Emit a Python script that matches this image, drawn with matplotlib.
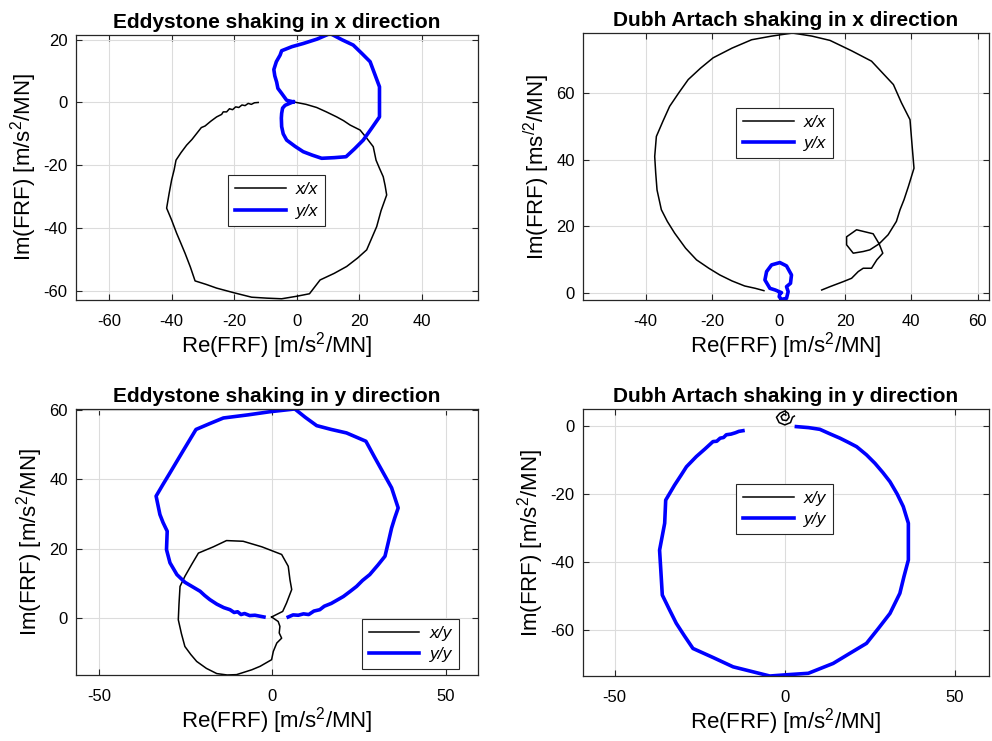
import matplotlib
matplotlib.use("Agg")
import matplotlib.pyplot as plt

plt.rcParams['font.family'] = ['Liberation Sans', 'DejaVu Sans']
plt.rcParams['mathtext.default'] = 'regular'
plt.rcParams['axes.unicode_minus'] = False

# ---- Eddystone, shaking in x ----
ed_xx_re = [-12.3, -13.5, -14.5, -15.5, -16.5, -17.5, -18.5, -19.5, -20.5, -21.5, -22.4, -23.5, -24, -25.6,
            -27.5, -29.3, -30.5, -32, -33.5, -35.2, -37,
            -38.6, -39.2, -40, -40.8, -41.6, -40, -38.4, -37, -35.7, -34, -32.5, -29, -25.6, -20, -14.4,
            -9.5, -4.8, 0, 4.1, 5.8, 7.5, 12, 16, 19.5, 22.4, 24, 25.6, 27, 28.8, 28.3, 27.7, 26.5, 25.4,
            24.5, 22.5, 20.3, 17.1, 15, 12.8, 9.5, 6.4, 3, -1.1]
ed_xx_im = [0.0, -0.1, -0.6, -0.3, -1.0, -0.8, -1.6, -1.4, -2.3, -2.0, -3.0, -3.0, -3.8, -4.6,
            -6.0, -7.5, -8.0, -9.9, -11.8, -13.6, -16,
            -18.4, -21.5, -24.7, -29, -33.7, -37.5, -41.7, -45, -48.1, -52.5, -56.9, -58, -59.2, -60.7, -62.1,
            -62.4, -62.6, -61.8, -61.0, -58.8, -56.6, -54.5, -52.3, -49.6, -47.0, -43.3, -39.6, -34.5, -29.5, -26.5, -23.7, -21, -18.4,
            -14.1, -11.5, -8.8, -7.2, -5.8, -4.6, -3.0, -1.6, -0.6, 0.2]
ed_yx_re = [-1.1, -3.2, -4.8, -6.0, -6.4, -7.0, -7.3, -6.5, -5.3, -4.8, -1.5, 2.1, 6.5, 10.7, 14.5, 18.1,
            21, 23.5, 25, 26.5, 26.5, 26.5, 24, 21.3, 18.5, 15.8, 12, 8, 5, 2.1, -0.5, -3.2, -4.3, -4.8,
            -4.9, -4.8, -4.5, -3.7, -1.1]
ed_yx_im = [0.2, 0.7, 2.9, 4.5, 6.5, 8.5, 10.5, 13, 15.1, 16.5, 17.8, 18.8, 20.2, 22.0, 20.0, 18.3,
            15.5, 13.0, 9, 5.0, 0, -4.6, -8.2, -12.0, -14.8, -17.3, -17.6, -17.8, -16.8, -15.7, -14, -12.0, -10, -7.7,
            -5, -3.5, -1.8, -0.9, 0.2]

# ---- Dubh Artach, shaking in x ----
da_xx_re = [-4.4, -7, -10.2, -14, -17.7, -21, -24.7, -28, -31.3, -33.5, -35.3, -36.6, -37, -37.3, -36.8,
            -34.8, -32.8, -30, -27.2, -23.5, -19.7, -14, -8.1, -2, 4.2, 10, 15.5, 22, 28, 34.6, 37, 39.6,
            40.2, 40.8, 39.1, 37.8, 36.6, 35.5, 33, 30.3, 27.5, 25.5, 22.5, 20.5, 20.5, 23.5, 28.5, 30.3,
            31.4, 29.6, 28, 25.5, 24, 22, 19.5, 15.5, 13]
da_xx_im = [0.8, 1.5, 2.2, 3.7, 5.5, 7.5, 10, 13.5, 18, 21.5, 25, 30.9, 36, 40.9, 46.9,
            51.5, 55.9, 60, 63.9, 67.3, 70.4, 73.3, 75.8, 76.9, 77.8, 76.9, 75.6, 72.5, 69.4, 62.4, 57, 51.9,
            44.5, 37.4, 31.9, 28, 25, 21.5, 17.5, 14.8, 13, 12.5, 12, 14.5, 16.9, 19, 17.8, 14.8,
            12, 10, 7.5, 7.5, 6.5, 4.5, 3.5, 2, 1]
da_yx_re = [0.4, 0.9, -1.0, -2.6, -4.1, -3.6, -2.1, 0.4, 2.4, 3.9, 3.6, 2.4, 2.9, 2.4, 0.9, 0.2, 0.4]
da_yx_im = [0.0, 0.2, 1.0, 1.5, 4.0, 6.5, 8.5, 9.2, 8.2, 5.5, 3.0, 2.0, 0.5, -1.5, -1.8, -1.0, 0.0]

# ---- Eddystone, shaking in y ----
ed_xy_re = [-0.2, 1.7, 2.2, 2.0, 2.7, 1.3, 0.3, -0.2, -3.5, -5.9, -10.3, -13, -16, -19, -21.8, -23.5,
            -25.2, -26.2, -27.1, -26.9, -26.6, -25.2, -23.2, -21.3, -17, -13.2, -8.4, -3, 2.7, 4.6, 5.1,
            5.6, 4.1, 3.0, -0.2]
ed_xy_im = [0.3, -1.0, -2.4, -4.3, -5.8, -7.2, -9.6, -12, -13.9, -14.9, -16.3, -16.4, -16, -14.5, -12.5, -10.5,
            -8.2, -4.5, -0.5, 4, 9.1, 12, 15.5, 18.7, 20.5, 22.3, 22.1, 20.5, 18.3, 14.9, 11,
            8.2, 4.3, 1.9, 0.3]
ed_yy_re = [-2.4, -5, -6.5, -8, -9, -10, -11, -12.2, -14, -16, -18, -19.5, -20.8, -23, -25.2, -27.5, -29.5,
            -30.5, -30.3, -31.5, -32.4, -33.5, -31.5, -29.5, -25.8, -22, -18, -14.1, -7, -0.7, 6.5, 9.5,
            12.8, 17, 21.4, 27, 29.5, 32, 34.4, 36.3, 35.3, 34.4, 33.5, 32.5, 30.5, 28.1, 26, 24.3, 22.5,
            20.5, 17, 15, 13.7, 12, 10.5, 9, 7.5, 6, 4.6]
ed_yy_im = [0.3, 0.8, 0.7, 1.3, 1.0, 1.8, 1.6, 2.4, 3.0, 4.0, 5.3, 6.5, 7.7, 9, 10.3, 12.5, 15.9,
            19.7, 25, 27.5, 29.8, 35.1, 38.5, 41.8, 48, 54.3, 56, 57.6, 58.5, 59.4, 60.2, 57.8,
            55.4, 54.3, 53.3, 50.9, 46.3, 41.8, 37.5, 31.7, 28.8, 25.9, 22, 17.8, 15.3, 12.5, 10.8, 9.1, 7.7,
            6.2, 4.2, 3.4, 2.4, 2.0, 1.0, 1.2, 0.8, 0.9, 0.3]

# ---- Dubh Artach, shaking in y ----
da_xy_re = [0.3, -0.3, -1.1, -0.7, 0.5, 1.27, 1.0, 0.0, -1.47, -2.45, -1.67, 0.0, 1.67, 2.25, 2.8]
da_xy_im = [3.2, 3.5, 2.75, 1.76, 1.57, 2.55, 3.7, 4.4, 3.7, 2.55, 0.98, 0.3, 0.98, 2.55, 2.9]
da_yy_re = [-12.3, -13.5, -14.5, -15.8, -17.2, -18, -19, -20, -21.1, -23.5, -26, -28.9, -30.5, -32.4, -35,
            -35.3, -36.8, -36.4, -36, -33.9, -31.9, -29.5, -27, -21, -15.2, -10, -4.4, 1, 6.9, 14.2, 19,
            24, 27.5, 30.9, 33.8, 35, 36.3, 36.3, 36.3, 34.8, 33, 30.9, 28.8, 26.5, 24, 21.1, 18.6, 16.2,
            13.2, 10.3, 7, 3.4]
da_yy_im = [-1.4, -1.6, -2.0, -2.4, -2.6, -3.4, -3.6, -4.5, -4.6, -6.8, -9, -12, -14.5, -17.4, -21.8,
            -28.6, -36.5, -43, -49.7, -54, -58, -61.7, -65.4, -68.1, -70.8, -72.1, -73.5, -73.1, -72.7, -69.8, -66.9,
            -63.9, -59.5, -55.1, -49.2, -44.3, -39.4, -34, -28.6, -23.7, -20, -16.4, -13.7, -11, -8.5, -6.1, -4.8, -3.6,
            -2.3, -1, -0.5, -0.2]

panels = [
    dict(title='Eddystone shaking in x direction', pos=[0.0766, 0.5951, 0.4052, 0.3576],
         xlim=(-70.6, 58), ylim=(-63, 21.5), xticks=range(-60, 41, 20), yticks=range(-60, 21, 20),
         black=(ed_xx_re, ed_xx_im, 'x/x'), blue=(ed_yx_re, ed_yx_im, 'y/x'),
         ylabel='Im(FRF) [m/s$^2$/MN]', leg=(0.2792, 0.7294)),
    dict(title='Dubh Artach shaking in x direction', pos=[0.5877, 0.5951, 0.4093, 0.3603],
         xlim=(-58.9, 63.4), ylim=(-2, 77.8), xticks=range(-40, 61, 20), yticks=range(0, 61, 20),
         black=(da_xx_re, da_xx_im, 'x/x'), blue=(da_yx_re, da_yx_im, 'y/x'),
         ylabel='Im(FRF) [ms$^{/2}$/MN]', leg=(0.7913, 0.8205)),
    dict(title='Eddystone shaking in y direction', pos=[0.0766, 0.0891, 0.4052, 0.359],
         xlim=(-56.6, 59.3), ylim=(-16.4, 60.2), xticks=[-50, 0, 50], yticks=range(0, 61, 20),
         black=(ed_xy_re, ed_xy_im, 'x/y'), blue=(ed_yy_re, ed_yy_im, 'y/y'),
         ylabel='Im(FRF) [m/s$^2$/MN]', leg=(0.4138, 0.1309)),
    dict(title='Dubh Artach shaking in y direction', pos=[0.5877, 0.0877, 0.4093, 0.360],
         xlim=(-59.3, 60), ylim=(-73.5, 4.9), xticks=[-50, 0, 50], yticks=range(-60, 1, 20),
         black=(da_xy_re, da_xy_im, 'x/y'), blue=(da_yy_re, da_yy_im, 'y/y'),
         ylabel='Im(FRF) [m/s$^2$/MN]', leg=(0.7913, 0.3131)),
]

fig = plt.figure(figsize=(9.92, 7.41), dpi=100)
for p in panels:
    ax = fig.add_axes(p['pos'])
    bx, by, bl = p['black']
    ux, uy, ul = p['blue']
    ax.plot(bx, by, color='black', lw=1.1, label=bl)
    ax.plot(ux, uy, color='#0000ff', lw=2.6, label=ul)
    ax.set_xlim(*p['xlim'])
    ax.set_ylim(*p['ylim'])
    ax.set_xticks(list(p['xticks']))
    ax.set_yticks(list(p['yticks']))
    ax.grid(True, color='#dcdcdc', lw=0.8)
    ax.set_axisbelow(True)
    ax.tick_params(direction='in', length=4, width=0.8, top=True, right=True,
                   labelsize=12, color='#262626')
    ax.tick_params(axis='x', pad=10)
    ax.tick_params(axis='y', pad=6)
    for s in ax.spines.values():
        s.set_linewidth(0.9)
        s.set_color('#262626')
    ax.set_title(p['title'], fontsize=15, fontweight='bold', pad=5)
    ax.set_xlabel('Re(FRF) [m/s$^2$/MN]', fontsize=16, labelpad=1)
    ax.set_ylabel(p['ylabel'], fontsize=16, labelpad=3)
    leg = ax.legend(loc='center', bbox_to_anchor=p['leg'], bbox_transform=fig.transFigure,
                    prop={'size': 12.5, 'style': 'italic'}, handlelength=2.9, fancybox=False,
                    framealpha=1, edgecolor='#262626', borderpad=0.4, labelspacing=0.35,
                    handletextpad=0.6)
    leg.get_frame().set_linewidth(0.8)

fig.savefig('out.png', dpi=100)
